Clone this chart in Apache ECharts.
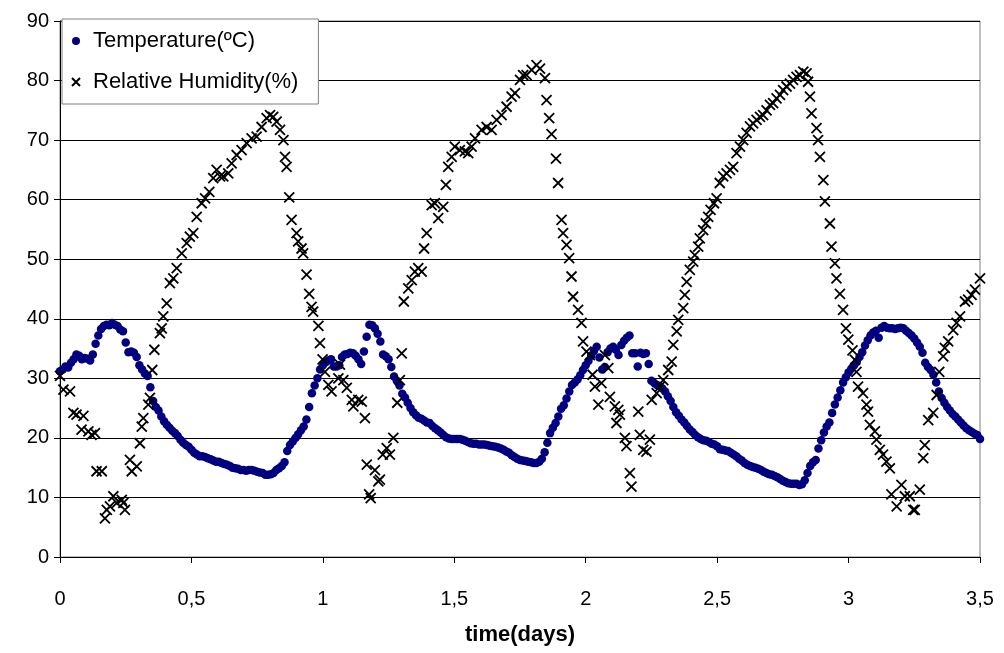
<!DOCTYPE html>
<html>
<head>
<meta charset="utf-8">
<script src="https://cdn.jsdelivr.net/npm/echarts@6/dist/echarts.min.js"></script>
<style>
html,body{margin:0;padding:0;background:#fff;}
#chart{width:1004px;height:653px;}
</style>
</head>
<body>
<div id="chart"></div>
<script>
// Sampling interval of the temperature logger (days): one reading every 15 minutes
const TEMP_STEP_DAYS = 1 / 96;

// Temperature (ºC) readings, one per 15 min from t = 0 to t = 3.5 days
const temperatureValues = [
  31.2,31.5,32.0,31.8,32.6,33.2,34.0,33.8,33.2,33.4,33.3,33.0,34.0,35.8,37.2,38.3,
  38.8,39.0,38.9,39.3,39.0,38.8,38.2,37.9,36.0,34.4,34.5,34.3,33.6,32.2,31.5,30.8,
  30.4,28.5,26.2,25.2,24.6,23.6,22.8,22.2,21.7,21.2,20.8,20.3,19.7,19.2,18.8,18.5,
  18.0,17.5,17.2,16.9,16.9,16.8,16.6,16.4,16.2,16.0,16.0,15.8,15.6,15.5,15.3,15.0,
  14.9,14.8,14.6,14.6,14.5,14.6,14.6,14.5,14.3,14.2,14.1,13.8,13.8,13.9,14.1,14.6,
  14.9,15.3,15.9,17.8,18.8,19.4,20.0,20.6,21.3,21.9,23.1,25.2,27.5,28.8,30.0,31.5,
  32.2,32.7,33.0,33.2,32.0,32.0,32.2,33.6,34.0,34.1,34.3,34.2,33.8,33.2,32.4,34.5,
  37.0,39.0,38.9,38.4,37.5,36.2,34.0,33.7,33.2,31.9,30.3,29.6,28.8,27.4,26.8,25.9,
  25.0,24.3,23.8,23.4,23.2,22.9,22.6,22.5,22.0,21.6,21.3,20.9,20.5,20.1,19.9,19.8,
  19.8,19.8,19.8,19.7,19.5,19.3,19.1,19.0,19.0,18.9,18.9,18.9,18.8,18.7,18.6,18.5,
  18.4,18.2,18.0,17.7,17.5,17.1,16.8,16.5,16.3,16.2,16.1,16.0,15.9,15.8,15.8,16.0,
  16.5,17.6,19.2,20.8,21.7,22.5,23.6,24.9,25.5,26.6,27.8,28.9,29.3,29.8,30.5,31.4,
  32.2,32.9,33.8,34.6,35.3,33.5,31.5,31.9,34.4,35.0,35.3,34.8,33.9,35.6,36.3,36.8,
  37.2,34.2,34.2,32.0,34.3,34.1,34.2,32.4,29.6,29.2,28.9,28.7,28.3,27.8,27.0,26.2,
  25.2,24.3,23.7,23.1,22.6,22.0,21.4,21.0,20.5,20.1,19.8,19.6,19.5,19.3,19.0,18.9,
  18.6,18.1,18.0,17.9,17.8,17.5,17.2,16.9,16.5,16.2,15.8,15.5,15.3,15.1,15.0,14.8,
  14.6,14.3,14.1,13.9,13.8,13.6,13.4,13.1,12.8,12.6,12.4,12.3,12.3,12.3,12.1,12.2,
  12.9,14.1,15.3,15.9,16.3,18.2,19.6,20.9,21.9,22.6,24.2,25.6,26.8,28.0,29.3,30.2,
  31.0,31.6,32.2,32.8,33.6,34.4,35.5,36.4,37.2,37.7,38.0,36.8,38.5,38.8,38.5,38.4,
  38.4,38.3,38.4,38.5,38.4,38.0,37.6,37.2,36.7,36.0,35.3,34.3,32.6,31.9,31.4,30.6,
  29.3,27.8,26.7,25.9,25.2,24.6,24.0,23.6,23.1,22.6,22.1,21.6,21.3,21.0,20.7,20.5,
  19.8
];

// Relative humidity (%) readings: [time (days), value]
const humidityPoints = [
  [0,30.4],[0.013,28.1],[0.038,27.8],[0.051,24.2],[0.063,23.9],[0.082,21.4],[0.089,23.7],[0.108,21.1],
  [0.12,20.5],[0.133,20.8],[0.139,14.4],[0.159,14.4],[0.171,6.5],[0.178,7.9],[0.19,8.5],[0.203,10.2],
  [0.216,9.1],[0.235,9.6],[0.241,9.1],[0.247,7.9],[0.266,16.3],[0.273,14.4],[0.292,15.2],[0.304,19.1],
  [0.311,21.9],[0.317,23.3],[0.336,25.6],[0.342,26.7],[0.351,31.4],[0.359,34.8],[0.38,37.6],[0.387,38.4],
  [0.393,40.4],[0.406,42.6],[0.418,46.0],[0.431,46.8],[0.444,48.5],[0.463,51.0],[0.482,52.7],[0.494,53.8],
  [0.507,54.4],[0.52,57.1],[0.539,59.4],[0.552,60.2],[0.568,61.3],[0.583,63.6],[0.596,65.0],[0.609,63.9],
  [0.621,63.9],[0.64,64.4],[0.653,66.1],[0.672,67.5],[0.691,68.3],[0.71,69.5],[0.729,70.3],[0.748,70.6],
  [0.767,72.2],[0.786,73.7],[0.799,74.2],[0.811,73.9],[0.824,73.1],[0.837,71.7],[0.85,70.0],[0.856,67.2],
  [0.862,65.5],[0.872,60.4],[0.881,56.6],[0.9,54.4],[0.906,53.0],[0.919,51.8],[0.925,51.0],[0.938,47.4],
  [0.948,44.2],[0.957,42.0],[0.963,41.2],[0.983,38.8],[0.989,35.9],[0.999,33.2],[1.008,31.1],[1.021,28.9],
  [1.033,27.8],[1.059,30.0],[1.065,32.3],[1.078,29.7],[1.091,28.4],[1.11,26.4],[1.116,25.3],[1.135,26.4],
  [1.148,26.1],[1.16,23.3],[1.167,15.5],[1.176,10.5],[1.182,9.9],[1.198,14.6],[1.211,12.7],[1.217,13.0],
  [1.228,17.2],[1.243,18.3],[1.255,17.2],[1.268,20.0],[1.283,25.9],[1.293,29.7],[1.3,34.2],[1.308,42.9],
  [1.325,45.1],[1.338,46.5],[1.35,47.9],[1.363,48.5],[1.376,47.9],[1.385,51.8],[1.395,54.4],[1.414,59.1],
  [1.426,59.4],[1.439,56.9],[1.458,58.8],[1.468,62.5],[1.477,65.5],[1.49,67.2],[1.502,68.9],[1.521,68.3],
  [1.54,68.1],[1.553,67.8],[1.566,68.9],[1.579,70.3],[1.604,71.7],[1.623,72.2],[1.642,71.7],[1.661,73.4],
  [1.68,74.2],[1.699,75.6],[1.718,77.3],[1.731,77.9],[1.75,80.1],[1.762,80.9],[1.775,80.9],[1.794,81.8],
  [1.813,82.6],[1.826,82.0],[1.845,80.4],[1.851,76.7],[1.861,73.7],[1.87,71.0],[1.887,66.9],[1.895,62.8],
  [1.908,56.6],[1.914,54.4],[1.927,52.4],[1.937,50.2],[1.946,47.1],[1.952,43.7],[1.971,41.5],[1.984,39.3],
  [1.99,36.2],[2.003,34.5],[2.016,33.9],[2.026,30.6],[2.035,28.6],[2.048,25.6],[2.06,29.2],[2.073,33.9],
  [2.086,31.7],[2.092,26.9],[2.111,25.3],[2.117,22.5],[2.124,24.7],[2.13,23.9],[2.149,20.0],[2.155,18.6],
  [2.168,14.1],[2.174,11.8],[2.2,24.4],[2.206,20.5],[2.219,18.0],[2.231,17.7],[2.244,19.7],[2.251,26.4],
  [2.27,27.5],[2.282,28.6],[2.295,29.7],[2.314,31.4],[2.327,32.8],[2.333,35.6],[2.346,37.9],[2.352,39.8],
  [2.371,41.8],[2.377,44.0],[2.384,46.2],[2.396,48.2],[2.409,49.6],[2.415,50.7],[2.428,52.1],[2.434,53.5],
  [2.447,54.9],[2.457,56.0],[2.466,57.1],[2.475,58.3],[2.488,59.4],[2.498,60.2],[2.51,62.8],[2.523,63.9],
  [2.536,64.4],[2.549,65.0],[2.561,65.5],[2.574,67.8],[2.587,68.9],[2.599,70.0],[2.612,71.2],[2.625,72.3],
  [2.637,72.8],[2.65,73.4],[2.663,73.9],[2.675,74.2],[2.688,75.0],[2.701,75.9],[2.713,76.2],[2.726,77.0],
  [2.739,77.6],[2.751,78.4],[2.764,79.0],[2.777,79.5],[2.789,80.1],[2.802,80.6],[2.815,80.9],[2.828,81.5],
  [2.84,81.2],[2.846,79.8],[2.853,77.3],[2.859,74.5],[2.878,72.0],[2.884,70.0],[2.891,67.2],[2.904,63.3],
  [2.91,59.7],[2.929,56.0],[2.935,52.1],[2.948,49.3],[2.954,46.8],[2.967,44.2],[2.979,41.5],[2.99,38.4],
  [2.999,36.5],[3.015,34.7],[3.024,33.1],[3.03,31.1],[3.036,28.6],[3.055,27.5],[3.068,25.6],[3.074,24.4],
  [3.081,22.2],[3.1,21.1],[3.106,19.7],[3.119,18.0],[3.131,17.2],[3.144,16.0],[3.157,14.9],[3.163,10.5],
  [3.183,8.5],[3.201,12.1],[3.214,10.2],[3.233,10.2],[3.246,7.9],[3.252,7.9],[3.271,11.3],[3.284,16.6],
  [3.29,18.8],[3.303,23.0],[3.322,24.2],[3.335,27.2],[3.345,31.1],[3.36,33.7],[3.366,35.1],[3.379,36.2],
  [3.398,38.1],[3.411,39.3],[3.424,40.4],[3.443,42.9],[3.455,43.2],[3.468,44.0],[3.481,44.9],[3.5,46.8]
];

const seriesNames = ['Temperature(ºC)', 'Relative Humidity(%)'];
const xAxisTitle = 'time(days)';
const xRange = { min: 0, max: 3.5, interval: 0.5 };
const yRange = { min: 0, max: 90, interval: 10 };

const temperaturePoints = temperatureValues.map((v, i) => [i * TEMP_STEP_DAYS, v]);
const crossPath = 'path://M0,0L10,10M10,0L0,10';
const FONT = 'Liberation Sans, Arial, sans-serif';

const chart = echarts.init(document.getElementById('chart'), null, { renderer: 'canvas' });
chart.setOption({
  animation: false,
  backgroundColor: '#ffffff',
  grid: { left: 60, top: 21, width: 920, height: 536, show: true, borderColor: '#808080', borderWidth: 1, backgroundColor: 'transparent' },
  legend: {
    left: 62, top: 19, orient: 'vertical',
    padding: [11, 20, 11, 9], itemGap: 19, itemWidth: 24, itemHeight: 8,
    backgroundColor: '#ffffff', borderColor: '#808080', borderWidth: 1,
    textStyle: { fontSize: 22, fontFamily: FONT, color: '#000' },
    data: [
      { name: seriesNames[0], icon: 'circle' },
      { name: seriesNames[1], icon: crossPath }
    ],
    z: 10
  },
  xAxis: {
    type: 'value', min: xRange.min, max: xRange.max, interval: xRange.interval,
    axisLine: { show: true, onZero: false, lineStyle: { color: '#000', width: 1 } },
    axisTick: { show: true, inside: false, length: 6, lineStyle: { color: '#000' } },
    splitLine: { show: false },
    axisLabel: { margin: 32, fontSize: 20, fontFamily: FONT, color: '#000',
      formatter: v => String(v).replace('.', ',') },
    name: xAxisTitle, nameLocation: 'middle', nameGap: 67,
    nameTextStyle: { fontSize: 22, fontWeight: 'bold', fontFamily: FONT, color: '#000' }
  },
  yAxis: {
    type: 'value', min: yRange.min, max: yRange.max, interval: yRange.interval,
    axisLine: { show: true, lineStyle: { color: '#000', width: 1 } },
    axisTick: { show: true, inside: false, length: 6, lineStyle: { color: '#000' } },
    splitLine: { show: true, lineStyle: { color: '#000', width: 1 } },
    axisLabel: { margin: 11, fontSize: 20, fontFamily: FONT, color: '#000' }
  },
  series: [
    {
      name: seriesNames[0], type: 'scatter', data: temperaturePoints,
      symbol: 'circle', symbolSize: 8.5,
      itemStyle: { color: '#000080', opacity: 1 }, z: 3
    },
    {
      name: seriesNames[1], type: 'scatter', data: humidityPoints,
      symbol: crossPath, symbolSize: 10,
      itemStyle: { color: 'rgba(0,0,0,0)', borderColor: '#000', borderWidth: 1.8, opacity: 1 }, z: 4
    }
  ]
});
</script>
</body>
</html>
